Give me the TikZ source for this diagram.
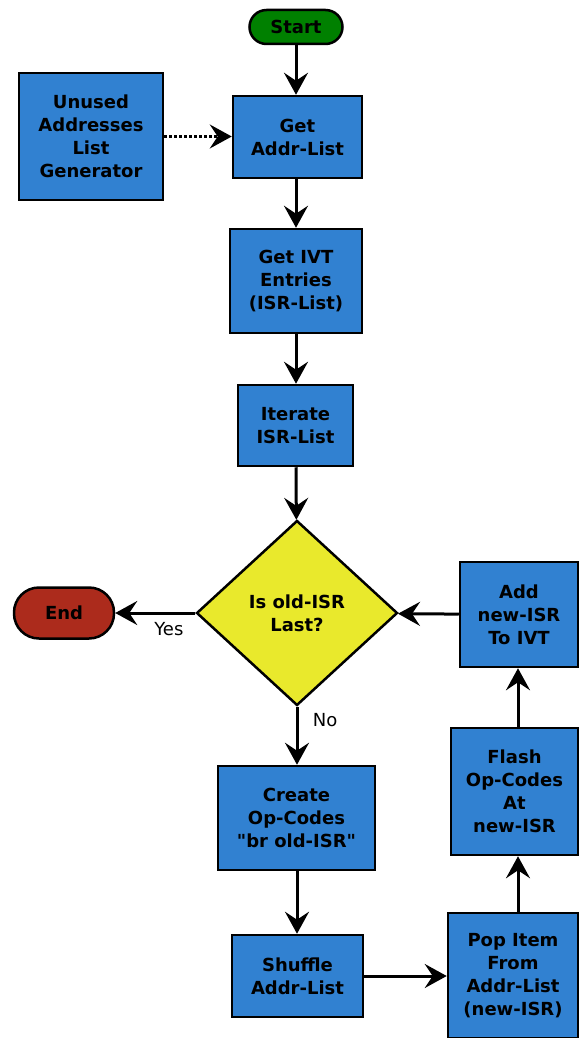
\documentclass[tikz,border=0pt]{standalone}
\usepackage{fontspec}
\setmainfont{DejaVu Sans}[Ligatures=TeXOff]
\usepackage{tikz}
\usetikzlibrary{shapes.geometric, arrows.meta}
\definecolor{boxblue}{HTML}{3181D1}
\definecolor{decyellow}{HTML}{E9E92C}
\definecolor{startgreen}{HTML}{008000}
\definecolor{endred}{HTML}{AC2B1C}
\begin{document}
\begin{tikzpicture}[x=1pt, y=-1pt,
          box/.style={rectangle, draw=black, line width=2.5pt, fill=boxblue,
                      font=\fontsize{18}{23}\selectfont\bfseries,
                      align=center, inner sep=0pt},
          term/.style={rectangle, draw=black, line width=2.5pt,
                       font=\fontsize{18}{23}\selectfont\bfseries,
                       inner sep=0pt},
          dec/.style={diamond, draw=black, line width=2.5pt, fill=decyellow,
                      font=\fontsize{18}{23}\selectfont\bfseries,
                      align=center, inner sep=0pt,
                      minimum width=201pt, minimum height=185pt},
          arr/.style={-{Stealth[length=22pt, width=24pt, inset=8pt]}, line width=3pt},
          lbl/.style={font=\fontsize{18}{20}\selectfont}
        ]
        \useasboundingbox (0,0) rectangle (578,1038);
        %% Terminals
        \node[term, fill=startgreen, rounded corners=17pt,
              minimum width=93pt, minimum height=34pt] (start) at (296,27) {Start};
        \node[term, fill=endred, rounded corners=25pt,
              minimum width=100pt, minimum height=51pt] (end) at (64,613) {End};
        %% Left column
        \node[box, minimum width=144pt, minimum height=127pt] (gen) at (91,136.5)
              {Unused\\Addresses\\List\\Generator};
        %% Main column
        \node[box, minimum width=129pt, minimum height=82pt] (getaddr) at (297.5,137)
              {Get\\Addr-List};
        \node[box, minimum width=132pt, minimum height=104pt] (getivt) at (296,281)
              {Get IVT\\Entries\\(ISR-List)};
        \node[box, minimum width=115pt, minimum height=81pt] (iter) at (295.5,425.5)
              {Iterate\\ISR-List};
        \node[dec] (last) at (297,613) {Is old-ISR\\Last?};
        \node[box, minimum width=157pt, minimum height=104pt] (create) at (296.5,818)
              {Create\\Op-Codes\\"br old-ISR"};
        \node[box, minimum width=131pt, minimum height=82pt] (shuffle) at (297.5,976)
              {Shuffle\\Addr-List};
        %% Right column
        \node[box, minimum width=130pt, minimum height=125pt] (pop) at (513,975.5)
              {Pop Item\\From\\Addr-List\\(new-ISR)};
        \node[box, minimum width=127pt, minimum height=127pt] (flash) at (514.5,791.5)
              {Flash\\Op-Codes\\At\\new-ISR};
        \node[box, minimum width=118pt, minimum height=105pt] (add) at (519,614.5)
              {Add\\new-ISR\\To IVT};
        %% Connectors
        \draw[arr] (start) -- (getaddr.north -| start);
        \draw[arr, dotted] (gen) -- (getaddr.west |- gen);
        \draw[arr] (getaddr.south -| start) -- (getivt.north -| start);
        \draw[arr] (getivt.south -| start) -- (iter.north -| start);
        \draw[arr] (iter.south -| start) -- (last);
        \draw[arr] (last) -- node[lbl, below, pos=0.33, yshift=-5pt] (yes) {Yes} (end);
        \draw[arr] (last) -- node[lbl, right, pos=0.3, xshift=11pt, yshift=4pt] (no) {No} (create.north -| last);
        \draw[arr] (create.south -| last) -- (shuffle.north -| last);
        \draw[arr] (shuffle) -- (pop.west |- shuffle);
        \draw[arr] (pop.north -| 518,0) -- (flash.south -| 518,0);
        \draw[arr] (flash.north -| 518,0) -- (add.south -| 518,0);
        \draw[arr] (add) -- (last);
      \end{tikzpicture}
\end{document}
